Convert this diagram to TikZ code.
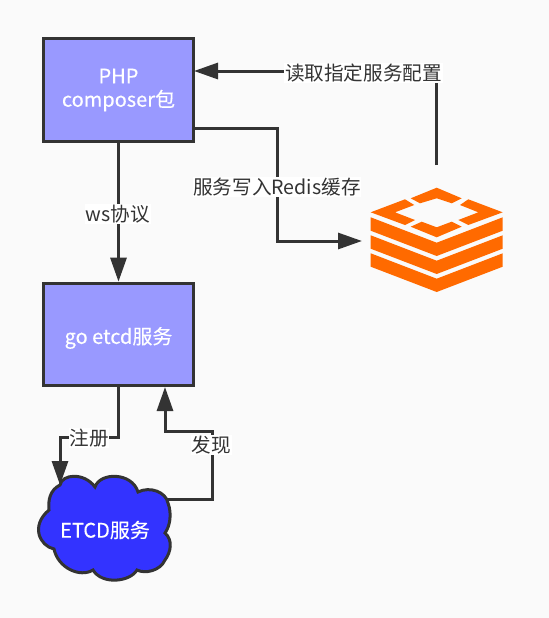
\documentclass[tikz,border=0pt]{standalone}
\usepackage{fontspec}
\setmainfont{Noto Sans CJK SC}
\usetikzlibrary{arrows.meta}
\definecolor{pageBack}{HTML}{FAFAFA}
\definecolor{lineGrey}{HTML}{333333}
\definecolor{serviceBox}{HTML}{9999FF}
\definecolor{cloudBlue}{HTML}{3333FF}
\definecolor{redisOrange}{HTML}{FF6A00}
\tikzset{
  service box/.style={draw=lineGrey,line width=2.25pt,fill=serviceBox,text=white,
    minimum width=112.5pt,minimum height=77pt,align=center,
    font=\fontsize{15pt}{17.5pt}\selectfont\addfontfeature{FakeBold=0.25}},
  connector/.style={draw=lineGrey,line width=2.25pt,-{Triangle[length=18pt,width=12pt]}},
  link label/.style={fill=white,text=lineGrey,inner sep=0.5pt,font=\fontsize{14.7pt}{16pt}\selectfont},
}
\begin{document}
\begin{tikzpicture}[x=0.75pt,y=-0.75pt]
\useasboundingbox (0,0) rectangle (549,618);
\fill[pageBack] (0,0) rectangle (549,618);
% boxes
\node[service box] (php) at (118.5,90) {PHP\\composer包};
\node[service box,text height=18pt,text depth=4pt] (etcd) at (118.5,334.5) {go etcd服务};
% cloud
\draw[draw=lineGrey,line width=2.25pt,fill=cloudBlue]
  (60,485) .. controls (62,474) and (84,472) .. (95,487)
  .. controls (100,472) and (132,472) .. (138,492)
  .. controls (150,486) and (166,492) .. (168,503)
  .. controls (172,514) and (170,526) .. (165,533)
  .. controls (173,540) and (171,552) .. (165,560)
  .. controls (160,571) and (145,574) .. (137,570)
  .. controls (130,582) and (102,585) .. (93,570)
  .. controls (80,578) and (58,568) .. (54,549)
  .. controls (40,546) and (30,526) .. (49,510)
  .. controls (48,500) and (50,490) .. (60,485) -- cycle;
\node[text=white,font=\fontsize{15pt}{17pt}\selectfont\addfontfeature{FakeBold=0.25}] (etcdcloud) at (105,530) {ETCD服务};
% redis logo
\foreach \layer in {0,18,36} {
  \fill[redisOrange,shift={(0,\layer)}]
    (370.7,217.3) -- (436.7,242.7) -- (502.7,217.3) -- (502.7,230.7)
    -- (436.7,256) -- (370.7,230.7) -- cycle;
}
\fill[redisOrange] (370.7,212.3) -- (405,199.3) -- (414.3,205) -- (395,212.3)
  -- (415,220) -- (405,225) -- cycle;
\fill[redisOrange] (410.7,198.3) -- (436.7,187.7) -- (461.7,198.3) -- (451.7,203.3)
  -- (436.7,198.3) -- (420,203.3) -- cycle;
\fill[redisOrange] (468.3,199.3) -- (502.7,212.3) -- (468.3,225) -- (458.3,220)
  -- (478.3,212.3) -- (460,205) -- cycle;
\fill[redisOrange] (410.7,226.7) -- (421.7,221.7) -- (436.7,227.3) -- (451.7,221.7)
  -- (461.7,226.7) -- (436.7,237.3) -- cycle;
\coordinate (redisin) at (362,241);
\coordinate (redisout) at (436,165);
\coordinate (phpin) at (194,71);
\coordinate (phpout) at (193,128);
\coordinate (etcdin) at (165,387);
\coordinate (cloudin) at (60,485);
\coordinate (cloudout) at (168,499);
% links
\draw[connector] (redisout) |- (phpin);
\draw[connector] (phpout) -- ++(84,0) |- (redisin);
\draw[connector] (php.south) -- (etcd.north);
\draw[connector] (etcd.south) -- ++(0,50) -| (cloudin);
\draw[connector] (cloudout) -- ++(44,0) -- ++(0,-68) -| (etcdin);
\node[link label] (readlabel) at (363.5,73) {读取指定服务配置};
\node[link label] (writelabel) at (277,187) {服务写入Redis缓存};
\node[link label] (wslabel) at (118,214) {ws协议};
\node[link label] (reglabel) at (89,438) {注册};
\node[link label] (findlabel) at (211.5,445) {发现};
\end{tikzpicture}
\end{document}
